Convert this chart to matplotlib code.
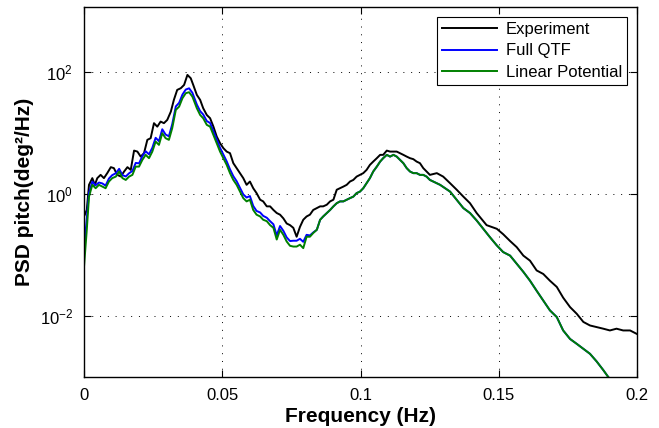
import numpy as np
import matplotlib
matplotlib.use("Agg")
import matplotlib.pyplot as plt

plt.rcParams['font.family'] = ['Liberation Sans', 'DejaVu Sans']
plt.rcParams['mathtext.fontset'] = 'custom'
plt.rcParams['mathtext.rm'] = 'Liberation Sans'

# Experiment
exp_freq = [0.0000, 0.0010, 0.0018, 0.0030, 0.0039, 0.0048, 0.0060, 0.0072, 0.0084, 0.0097,
            0.0108, 0.0120, 0.0133, 0.0145, 0.0157, 0.0169, 0.0181, 0.0193, 0.0205, 0.0217,
            0.0229, 0.0241, 0.0253, 0.0265, 0.0277, 0.0289, 0.0301, 0.0314, 0.0325, 0.0337,
            0.0350, 0.0362, 0.0374, 0.0386, 0.0395, 0.0408, 0.0420, 0.0431, 0.0444, 0.0456,
            0.0468, 0.0480, 0.0492, 0.0504, 0.0516, 0.0528, 0.0540, 0.0552, 0.0564, 0.0576,
            0.0588, 0.0600, 0.0612, 0.0624, 0.0637, 0.0648, 0.0661, 0.0673, 0.0685, 0.0697,
            0.0709, 0.0721, 0.0733, 0.0745, 0.0757, 0.0769, 0.0781, 0.0793, 0.0805, 0.0817,
            0.0829, 0.0842, 0.0854, 0.0865, 0.0878, 0.0890, 0.0902, 0.0914, 0.0926, 0.0938,
            0.0950, 0.0962, 0.0974, 0.0986, 0.0998, 0.1010, 0.1022, 0.1034, 0.1046, 0.1059,
            0.1071, 0.1082, 0.1095, 0.1107, 0.1119, 0.1131, 0.1143, 0.1155, 0.1167, 0.1179,
            0.1191, 0.1203, 0.1215, 0.1227, 0.1239, 0.1251, 0.1276, 0.1299, 0.1324, 0.1348,
            0.1372, 0.1396, 0.1420, 0.1456, 0.1493, 0.1516, 0.1541, 0.1565, 0.1589, 0.1613,
            0.1637, 0.1661, 0.1685, 0.1710, 0.1733, 0.1758, 0.1782, 0.1806, 0.1830, 0.1854,
            0.1878, 0.1902, 0.1926, 0.1950, 0.1975, 0.1999]
exp_psd = [0.43, 0.55, 1.42, 1.83, 1.42, 1.83, 2.07, 1.83, 2.21, 2.77,
           2.67, 2.07, 1.95, 2.35, 2.77, 2.50, 5.18, 4.99, 4.13, 4.70,
           7.77, 8.28, 14.6, 12.8, 15.5, 14.6, 16.5, 22.6, 35.2, 51.3,
           54.7, 62.0, 90.4, 79.7, 62.0, 42.5, 35.2, 25.7, 19.9, 17.6,
           12.8, 8.80, 6.86, 5.68, 4.99, 4.70, 3.22, 2.67, 2.21, 1.83,
           1.42, 1.61, 1.25, 1.04, 0.81, 0.76, 0.63, 0.63, 0.55, 0.49,
           0.46, 0.40, 0.33, 0.31, 0.28, 0.20, 0.29, 0.38, 0.43, 0.46,
           0.55, 0.59, 0.63, 0.63, 0.67, 0.76, 0.81, 1.18, 1.25, 1.33,
           1.42, 1.61, 1.71, 1.94, 2.07, 2.21, 2.50, 3.02, 3.42, 3.89,
           4.41, 4.41, 5.18, 4.99, 4.99, 4.99, 4.70, 4.41, 4.13, 3.89,
           3.75, 3.42, 3.22, 2.67, 2.35, 2.07, 2.21, 1.94, 1.51, 1.18,
           0.91, 0.71, 0.49, 0.31, 0.27, 0.22, 0.17, 0.135, 0.098, 0.081,
           0.056, 0.049, 0.038, 0.030, 0.020, 0.014, 0.0109, 0.0080, 0.0070, 0.0066,
           0.0062, 0.0058, 0.0062, 0.0058, 0.0058, 0.0051]

# Linear Potential
lin_freq = [0.0000, 0.0010, 0.0018, 0.0030, 0.0042, 0.0054, 0.0066, 0.0078, 0.0090, 0.0102,
            0.0115, 0.0127, 0.0139, 0.0151, 0.0163, 0.0175, 0.0187, 0.0199, 0.0211, 0.0223,
            0.0235, 0.0247, 0.0259, 0.0271, 0.0283, 0.0295, 0.0307, 0.0319, 0.0332, 0.0344,
            0.0356, 0.0368, 0.0380, 0.0392, 0.0408, 0.0420, 0.0431, 0.0444, 0.0456, 0.0468,
            0.0480, 0.0492, 0.0504, 0.0516, 0.0528, 0.0540, 0.0552, 0.0564, 0.0576, 0.0588,
            0.0600, 0.0612, 0.0624, 0.0637, 0.0648, 0.0661, 0.0673, 0.0685, 0.0697, 0.0709,
            0.0721, 0.0733, 0.0745, 0.0757, 0.0769, 0.0781, 0.0793, 0.0805, 0.0817, 0.0829,
            0.0842, 0.0854, 0.0865, 0.0878, 0.0890, 0.0902, 0.0914, 0.0926, 0.0938, 0.0950,
            0.0962, 0.0974, 0.0986, 0.0998, 0.1010, 0.1022, 0.1034, 0.1046, 0.1059, 0.1071,
            0.1082, 0.1095, 0.1107, 0.1119, 0.1131, 0.1143, 0.1155, 0.1167, 0.1179, 0.1191,
            0.1203, 0.1215, 0.1227, 0.1239, 0.1251, 0.1288, 0.1324, 0.1372, 0.1396, 0.1420,
            0.1444, 0.1468, 0.1493, 0.1516, 0.1541, 0.1565, 0.1589, 0.1613, 0.1637, 0.1661,
            0.1685, 0.1710, 0.1733, 0.1758, 0.1782, 0.1806, 0.1830, 0.1854, 0.1878, 0.1896,
            0.1910]
lin_psd = [0.065, 0.26, 0.91, 1.42, 1.25, 1.42, 1.33, 1.25, 1.61, 1.83,
           1.94, 2.35, 1.83, 1.71, 1.94, 2.07, 2.83, 2.83, 3.65, 4.41,
           3.89, 4.99, 7.28, 6.43, 10.0, 8.28, 7.77, 12.1, 24.1, 27.3,
           37.5, 45.3, 47.0, 39.8, 25.7, 19.9, 17.6, 13.7, 12.8, 9.38,
           6.86, 4.99, 3.89, 3.02, 2.21, 1.71, 1.42, 1.10, 0.86, 0.76,
           0.81, 0.55, 0.46, 0.43, 0.38, 0.36, 0.31, 0.28, 0.18, 0.26,
           0.215, 0.167, 0.142, 0.138, 0.138, 0.148, 0.130, 0.20, 0.20, 0.23,
           0.26, 0.38, 0.43, 0.49, 0.55, 0.63, 0.71, 0.76, 0.76, 0.81,
           0.86, 0.91, 1.04, 1.10, 1.25, 1.51, 1.83, 2.35, 2.83, 3.42,
           3.89, 4.41, 4.13, 4.41, 4.13, 3.65, 3.22, 2.67, 2.35, 2.21,
           2.21, 2.07, 2.07, 1.94, 1.71, 1.42, 1.10, 0.59, 0.49, 0.37,
           0.27, 0.197, 0.144, 0.112, 0.098, 0.072, 0.053, 0.038, 0.026, 0.018,
           0.0124, 0.0096, 0.0058, 0.0042, 0.0035, 0.0029, 0.0024, 0.0018, 0.0013, 0.0010,
           0.00084]

# Full QTF: sits a little above the linear curve below ~0.083 Hz, identical after
qtf_low = [0.12, 0.40, 1.05, 1.60, 1.40, 1.55, 1.50, 1.38, 1.80, 2.05,
           2.20, 2.60, 2.05, 1.95, 2.20, 2.40, 3.25, 3.20, 4.20, 5.05,
           4.50, 5.75, 8.40, 7.40, 11.6, 9.50, 8.90, 14.0, 27.5, 31.5,
           43.0, 52.0, 54.5, 46.0, 29.5, 23.0, 20.3, 15.8, 14.7, 10.8,
           7.90, 5.75, 4.45, 3.45, 2.55, 1.97, 1.63, 1.27, 0.99, 0.88,
           0.93, 0.64, 0.53, 0.50, 0.44, 0.41, 0.36, 0.32, 0.21, 0.30,
           0.25, 0.195, 0.17, 0.172, 0.172, 0.185, 0.165, 0.215, 0.21, 0.235]
qtf_freq = lin_freq
qtf_psd = qtf_low + lin_psd[len(qtf_low):]

fig = plt.figure(figsize=(6.59, 4.28), dpi=100)
ax = fig.add_axes([0.1275, 0.1192, 0.8391, 0.8644])

ax.semilogy(exp_freq, exp_psd, color='k', lw=1.4, label='Experiment')
ax.semilogy(qtf_freq, qtf_psd, color='#0000ff', lw=1.4, label='Full QTF')
ax.semilogy(lin_freq, lin_psd, color='#008000', lw=1.4, label='Linear Potential')

ax.set_xlim(0, 0.2)
ax.set_ylim(1e-3, 10**3.07)
ax.set_xticks([0, 0.05, 0.1, 0.15, 0.2])
ax.set_xticklabels(['0', '0.05', '0.1', '0.15', '0.2'])
ax.set_yticks([1e-2, 1e0, 1e2])
ax.minorticks_off()
ax.tick_params(direction='in', top=True, right=True, length=5, width=0.8,
               labelsize=12, pad=8)
ax.grid(True, color='k', linestyle=(0, (1, 7)), linewidth=0.7)
for s in ax.spines.values():
    s.set_linewidth(1.0)

ax.set_xlabel('Frequency (Hz)', fontsize=15, fontweight='bold', labelpad=3)
ax.set_ylabel('PSD pitch(deg²/Hz)', fontsize=15, fontweight='bold', labelpad=4)

leg = ax.legend(loc='upper right', fontsize=12, handlelength=3.3, borderaxespad=0.6,
                fancybox=False, framealpha=1, edgecolor='k', labelspacing=0.38,
                handletextpad=0.5, borderpad=0.3)
leg.get_frame().set_linewidth(0.8)

fig.savefig('out.png', dpi=100)
